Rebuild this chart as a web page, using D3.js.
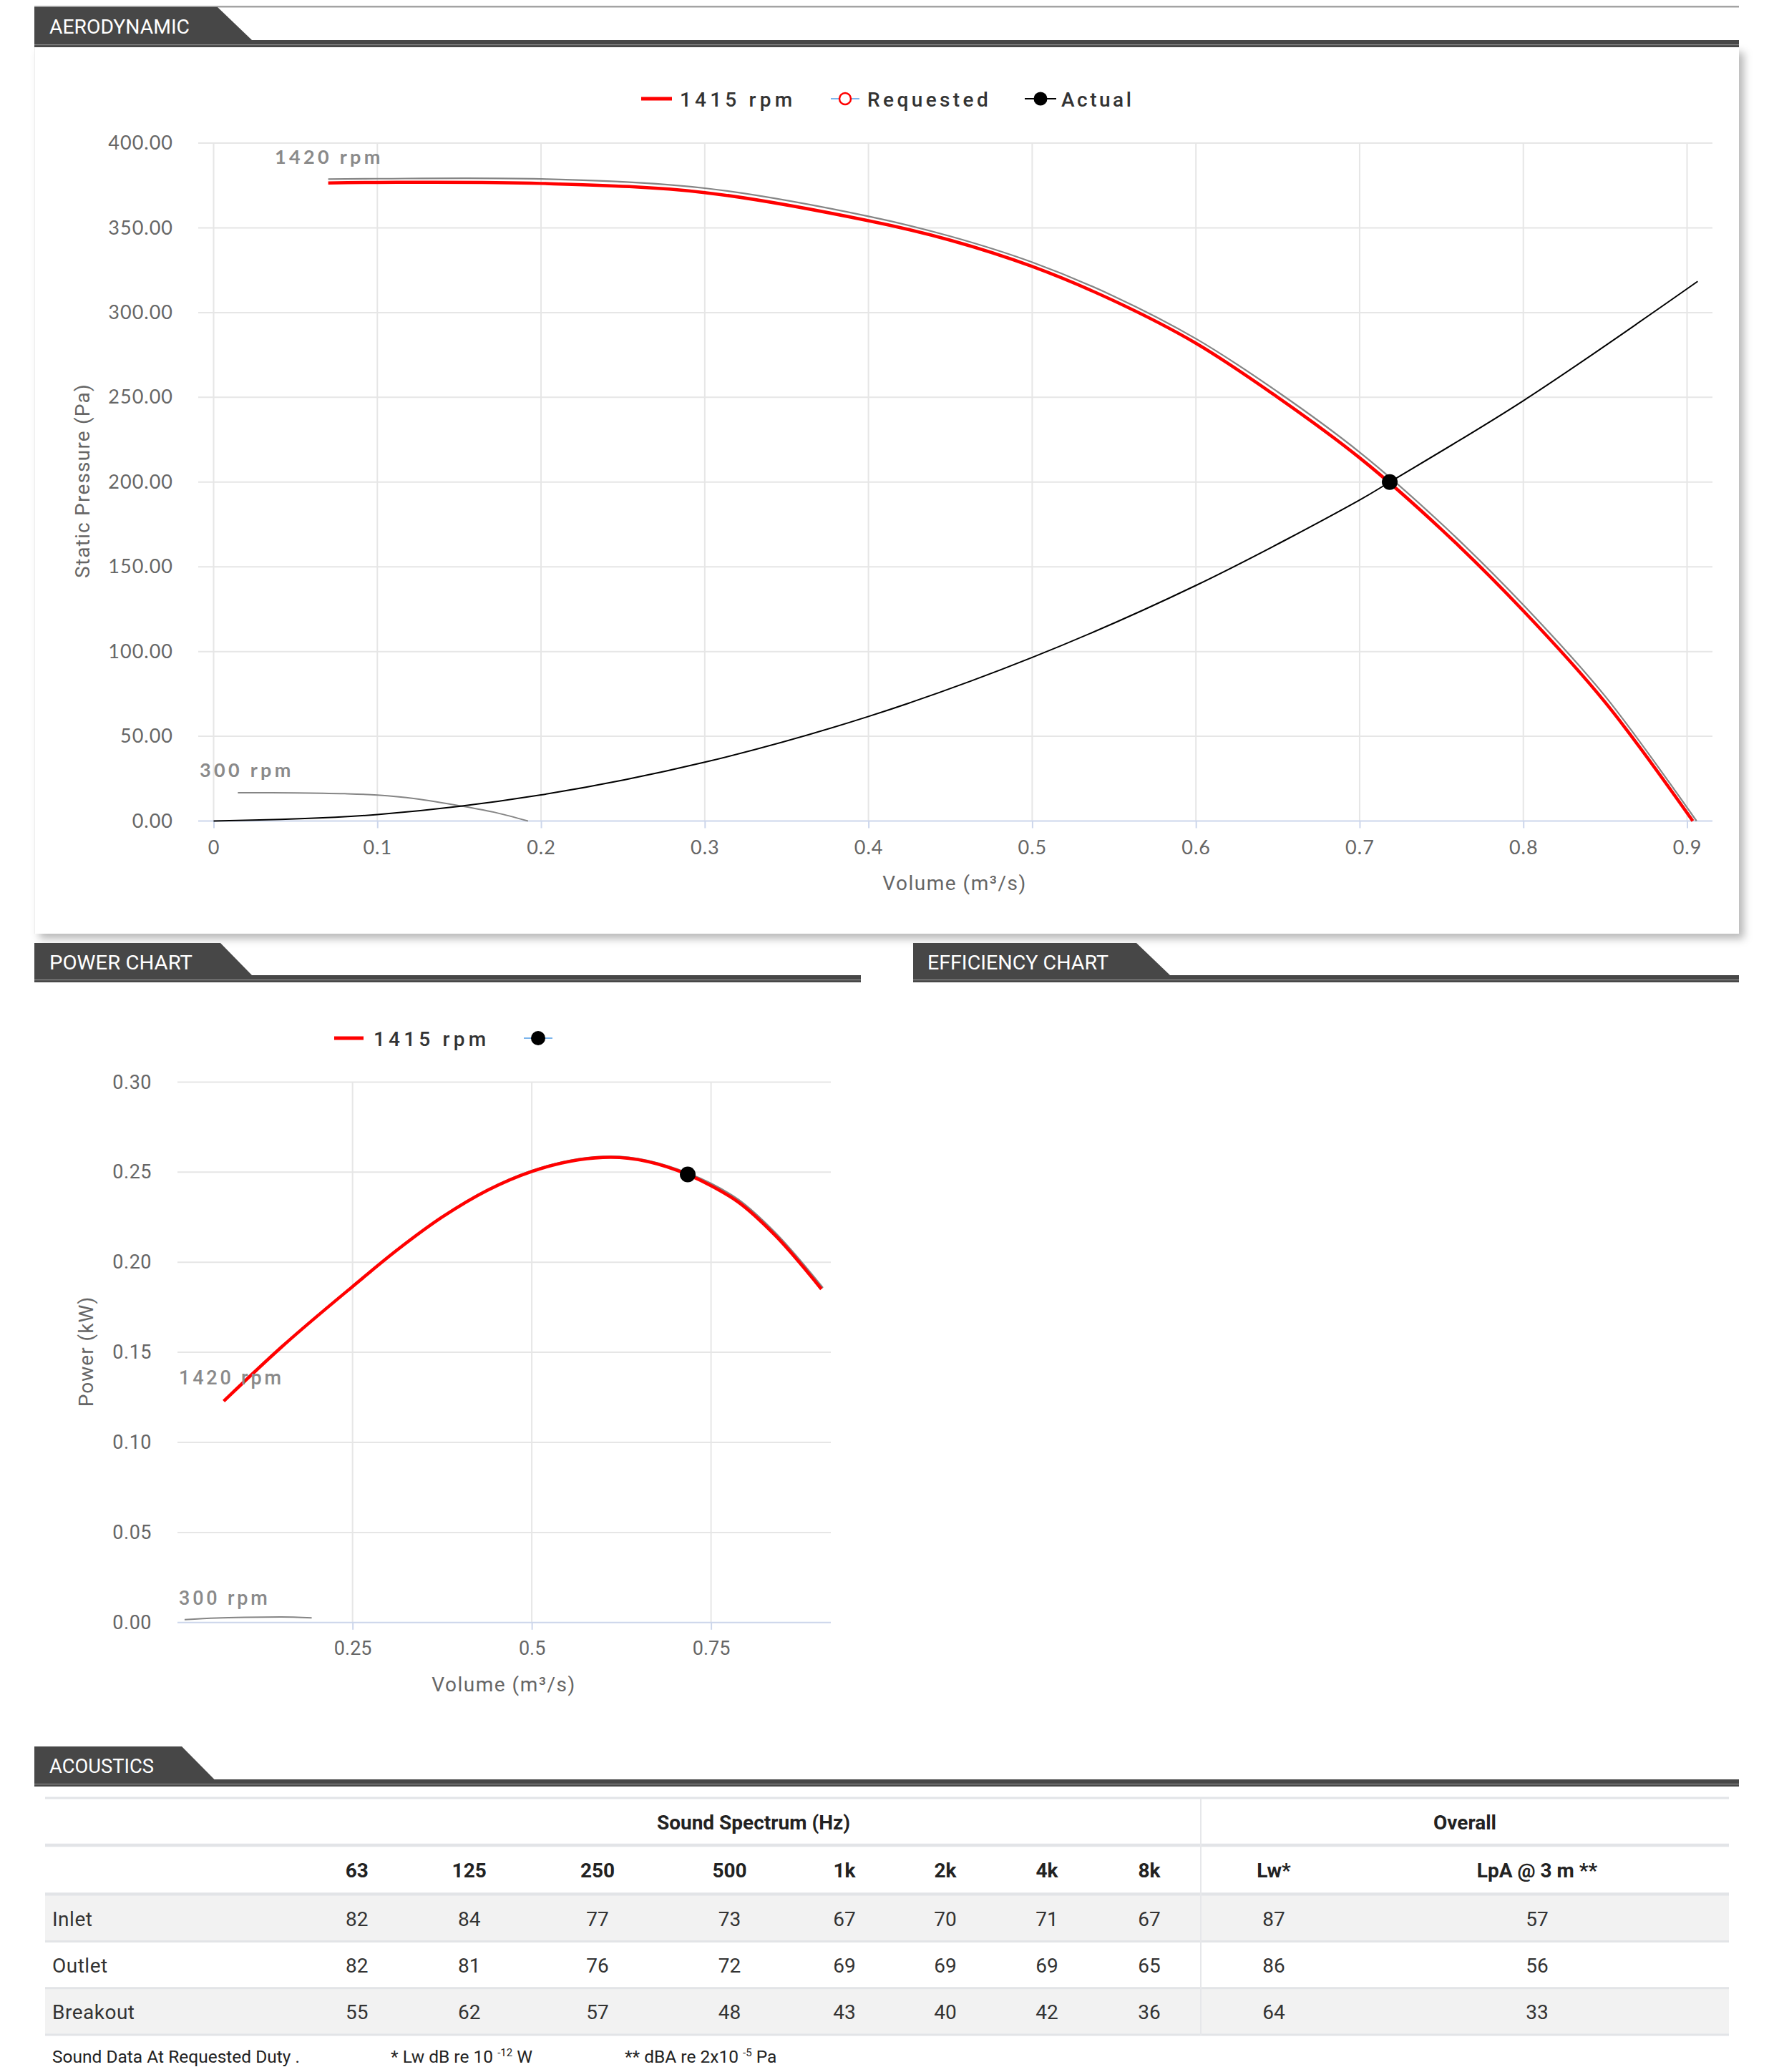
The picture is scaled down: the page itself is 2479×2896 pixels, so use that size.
<!DOCTYPE html>
<html><head><meta charset="utf-8">
<script src="https://cdn.jsdelivr.net/npm/d3@7"></script>
<style>
body{margin:0;background:#fff;}
svg{display:block;}
</style></head><body>
<svg id="page" width="2479" height="2896"></svg>
<script>
// ---------- DATA ----------
// Aerodynamic chart (Volume m3/s vs Static Pressure Pa)
const aeroXTicks = [0, 0.1, 0.2, 0.3, 0.4, 0.5, 0.6, 0.7, 0.8, 0.9];
const aeroXTickLabels = ["0", "0.1", "0.2", "0.3", "0.4", "0.5", "0.6", "0.7", "0.8", "0.9"];
const aeroYTicks = [0, 50, 100, 150, 200, 250, 300, 350, 400];

const fan1415Q = [0.070, 0.10, 0.20, 0.30, 0.40, 0.45, 0.50, 0.55, 0.60, 0.65, 0.70, 0.75, 0.80, 0.85, 0.9035];
const fan1415P = [376.5, 376.8, 376.2, 370.8, 354.2, 342.7, 327.2, 306.9, 281.9, 250.0, 214.3, 172.0, 124.0, 70.0, 0];

const fan1420Q = [0.070, 0.10, 0.20, 0.30, 0.40, 0.45, 0.50, 0.55, 0.60, 0.65, 0.70, 0.75, 0.80, 0.85, 0.9058];
const fan1420P = [378.7, 379.0, 378.8, 373.4, 356.8, 345.0, 329.7, 309.6, 284.6, 253.2, 217.6, 175.4, 127.5, 73.6, 0];

const fan300Q = [0.0148, 0.05, 0.08, 0.10, 0.123, 0.152, 0.173, 0.192];
const fan300P = [16.7, 16.6, 16.1, 15.3, 13.2, 8.7, 4.8, 0];

const systemQ = [0, 0.1, 0.2, 0.3, 0.4, 0.5, 0.6, 0.7, 0.7184, 0.8, 0.9065];
const systemP = [0, 3.8, 15.4, 34.7, 61.7, 96.5, 139.0, 189.4, 200.0, 248.0, 318.4];

const dutyQ = [0.7184];
const dutyP = [200.0];

// Power chart (Volume m3/s vs Power kW)
const powerXTicks = [0.25, 0.5, 0.75];
const powerXTickLabels = ["0.25", "0.5", "0.75"];
const powerYTicks = [0, 0.05, 0.10, 0.15, 0.20, 0.25, 0.30];

const power1415Q = [0.0703, 0.152, 0.25, 0.3126, 0.3756, 0.4385, 0.50, 0.61, 0.7175, 0.75, 0.788, 0.8395, 0.904];
const power1415W = [0.1229, 0.1533, 0.1865, 0.2069, 0.2252, 0.2400, 0.2504, 0.2583, 0.2487, 0.2425, 0.2334, 0.2149, 0.1851];

const power1420Q = [0.0703, 0.152, 0.25, 0.3126, 0.3756, 0.4385, 0.50, 0.61, 0.7175, 0.75, 0.788, 0.8395, 0.906];
const power1420W = [0.1231, 0.1536, 0.1868, 0.2072, 0.2255, 0.2403, 0.2508, 0.2588, 0.2495, 0.2437, 0.2348, 0.2164, 0.1858];

const power300Q = [0.0157, 0.06, 0.10, 0.15, 0.193];
const power300W = [0.0016, 0.0025, 0.0029, 0.0031, 0.0026];

const powerDutyQ = [0.7175];
const powerDutyW = [0.2487];

// Acoustics table
const bands = ["63", "125", "250", "500", "1k", "2k", "4k", "8k"];
const overallHeads = ["Lw*", "LpA @ 3 m **"];
const rowNames = ["Inlet", "Outlet", "Breakout"];
const inletLevels = [82, 84, 77, 73, 67, 70, 71, 67];
const outletLevels = [82, 81, 76, 72, 69, 69, 69, 65];
const breakoutLevels = [55, 62, 57, 48, 43, 40, 42, 36];
const inletOverall = [87, 57];
const outletOverall = [86, 56];
const breakoutOverall = [64, 33];

// ---------- DRAW ----------
const svg = d3.select("#page");
const defs = svg.append("defs");
const flt = defs.append("filter").attr("id", "shadow")
  .attr("x", "-2%").attr("y", "-3%").attr("width", "104%").attr("height", "108%");
flt.append("feDropShadow").attr("dx", 7).attr("dy", 7).attr("stdDeviation", 6)
  .attr("flood-color", "#000").attr("flood-opacity", 0.28);

const TAB = "#474747";
function header(xL, xR, yTop, yBar, trX, brX, label, tx, tBase, tLen) {
  const g = svg.append("g");
  g.append("polygon")
    .attr("points", [[xL, yTop], [trX, yTop], [brX, yBar], [xL, yBar]].map(p => p.join(",")).join(" "))
    .attr("fill", TAB);
  g.append("rect").attr("x", xL).attr("y", yBar).attr("width", xR - xL).attr("height", 10).attr("fill", TAB);
  g.append("rect").attr("x", xL).attr("y", yBar + 6).attr("width", xR - xL).attr("height", 1.2).attr("fill", "#8c8c8c");
  g.append("text").attr("x", tx).attr("y", tBase)
    .attr("font-family", "Roboto, sans-serif").attr("font-weight", 400)
    .attr("font-size", 27).attr("fill", "#fff")
    .attr("textLength", tLen).attr("lengthAdjust", "spacingAndGlyphs")
    .text(label);
}

// top grey line
svg.append("rect").attr("x", 48).attr("y", 8).attr("width", 2382).attr("height", 2.5).attr("fill", "#a3a3a3");

// aerodynamic card
svg.append("rect").attr("x", 48).attr("y", 66).attr("width", 2382).attr("height", 1239)
  .attr("fill", "#fff").attr("filter", "url(#shadow)");
svg.append("line").attr("x1", 48.5).attr("x2", 48.5).attr("y1", 66).attr("y2", 1305)
  .attr("stroke", "#eeeeee").attr("stroke-width", 1);

header(48, 2430, 10, 56, 304, 352, "AERODYNAMIC", 69, 47, 196);
header(48, 1203, 1318, 1363, 308, 352, "POWER CHART", 69, 1355, 200);
header(1276, 2430, 1318, 1363, 1588, 1635, "EFFICIENCY CHART", 1296, 1355, 253);
header(48, 2430, 2441, 2487, 254, 299.5, "ACOUSTICS", 69, 2478, 146);

// ===== Aerodynamic chart =====
const xA = d3.scaleLinear().domain([0, 0.9]).range([298.5, 2357.5]);
const yA = d3.scaleLinear().domain([0, 400]).range([1147.5, 200]);
const aL = 277, aR = 2393;
const GRID = "#e6e6e6", AXIS = "#ccd6eb";
const ga = svg.append("g");

// horizontal grid
ga.append("g").selectAll("line").data(aeroYTicks.filter(d => d > 0)).join("line")
  .attr("x1", aL).attr("x2", aR).attr("y1", d => yA(d)).attr("y2", d => yA(d))
  .attr("stroke", GRID).attr("stroke-width", 2);
// vertical grid
ga.append("g").selectAll("line").data(aeroXTicks).join("line")
  .attr("x1", d => xA(d)).attr("x2", d => xA(d)).attr("y1", yA(400)).attr("y2", yA(0))
  .attr("stroke", GRID).attr("stroke-width", 2);

// x axis
const axA = ga.append("g").attr("transform", `translate(0,${yA(0)})`)
  .call(d3.axisBottom(xA).tickValues(aeroXTicks).tickSize(10).tickPadding(17)
    .tickFormat((d, i) => aeroXTickLabels[i]));
axA.select(".domain").remove();
axA.selectAll(".tick line").attr("stroke", AXIS).attr("stroke-width", 2);
axA.selectAll(".tick text").attr("font-family", "Lato, sans-serif").attr("font-size", 27)
  .attr("letter-spacing", 1).attr("fill", "#666").attr("dy", "0.71em");
ga.append("line").attr("x1", aL).attr("x2", aR).attr("y1", yA(0)).attr("y2", yA(0))
  .attr("stroke", AXIS).attr("stroke-width", 2);

// y axis labels
const ayA = ga.append("g").attr("transform", `translate(${aL},0)`)
  .call(d3.axisLeft(yA).tickValues(aeroYTicks).tickSize(0).tickPadding(35).tickFormat(d3.format(".2f")));
ayA.select(".domain").remove();
ayA.selectAll(".tick text").attr("font-family", "Lato, sans-serif").attr("font-size", 27)
  .attr("letter-spacing", 1).attr("fill", "#666");

// axis titles
ga.append("text").attr("transform", "translate(125,672) rotate(-90)").attr("text-anchor", "middle")
  .attr("font-family", "Roboto, sans-serif").attr("font-size", 28).attr("letter-spacing", 1.2).attr("fill", "#666")
  .text("Static Pressure (Pa)");
ga.append("text").attr("x", 1334).attr("y", 1244).attr("text-anchor", "middle")
  .attr("font-family", "Roboto, sans-serif").attr("font-size", 28).attr("letter-spacing", 1.5).attr("fill", "#666")
  .text("Volume (m³/s)");

const lineA = d3.line().x(d => xA(d[0])).y(d => yA(d[1])).curve(d3.curveCatmullRom.alpha(0.5));
ga.append("path").attr("d", lineA(d3.zip(fan300Q, fan300P))).attr("fill", "none").attr("stroke", "#858585").attr("stroke-width", 2);
ga.append("path").attr("d", lineA(d3.zip(systemQ, systemP))).attr("fill", "none").attr("stroke", "#000").attr("stroke-width", 2);
ga.append("path").attr("d", lineA(d3.zip(fan1420Q, fan1420P))).attr("fill", "none").attr("stroke", "#858585").attr("stroke-width", 2.2);
ga.append("path").attr("d", lineA(d3.zip(fan1415Q, fan1415P))).attr("fill", "none").attr("stroke", "#ff0000").attr("stroke-width", 4.5);
ga.selectAll("circle.duty").data(d3.zip(dutyQ, dutyP)).join("circle").attr("class", "duty")
  .attr("cx", d => xA(d[0])).attr("cy", d => yA(d[1])).attr("r", 11).attr("fill", "#000");

const rpmLbl = (g, x, y, t) => g.append("text").attr("x", x).attr("y", y)
  .attr("font-family", "Lato, sans-serif").attr("font-weight", 700).attr("font-size", 27)
  .attr("letter-spacing", 4.3).attr("fill", "#8a8a8a").attr("dominant-baseline", "central").text(t);
rpmLbl(ga, 384, 218, "1420 rpm");
rpmLbl(ga, 279, 1075, "300 rpm");

// legend
const lgTxt = (g, x, y, t, ls) => g.append("text").attr("x", x).attr("y", y)
  .attr("font-family", "Roboto, sans-serif").attr("font-weight", 500).attr("font-size", 28)
  .attr("letter-spacing", ls).attr("fill", "#333").attr("dominant-baseline", "central").text(t);
const lg = svg.append("g");
lg.append("line").attr("x1", 896).attr("x2", 939).attr("y1", 138).attr("y2", 138).attr("stroke", "#f00").attr("stroke-width", 5);
lgTxt(lg, 950, 139, "1415 rpm", 5.2);
lg.append("line").attr("x1", 1161).attr("x2", 1201).attr("y1", 138).attr("y2", 138).attr("stroke", "#7cb5ec").attr("stroke-width", 2);
lg.append("circle").attr("cx", 1181).attr("cy", 138).attr("r", 8).attr("fill", "#fff").attr("stroke", "#f00").attr("stroke-width", 2.5);
lgTxt(lg, 1212, 139, "Requested", 4.4);
lg.append("line").attr("x1", 1432).attr("x2", 1476).attr("y1", 138).attr("y2", 138).attr("stroke", "#000").attr("stroke-width", 2);
lg.append("circle").attr("cx", 1454).attr("cy", 138).attr("r", 9.5).attr("fill", "#000");
lgTxt(lg, 1483, 139, "Actual", 3.5);

// ===== Power chart =====
const xP = d3.scaleLinear().domain([0, 0.75]).range([242.2, 993.6]);
const yP = d3.scaleLinear().domain([0, 0.3]).range([2267.8, 1512.4]);
const pL = 248, pR = 1161;
const gp = svg.append("g");
gp.append("g").selectAll("line").data(powerYTicks.filter(d => d > 0)).join("line")
  .attr("x1", pL).attr("x2", pR).attr("y1", d => yP(d)).attr("y2", d => yP(d))
  .attr("stroke", GRID).attr("stroke-width", 2);
gp.append("g").selectAll("line").data(powerXTicks).join("line")
  .attr("x1", d => xP(d)).attr("x2", d => xP(d)).attr("y1", yP(0.3)).attr("y2", yP(0))
  .attr("stroke", GRID).attr("stroke-width", 2);
const axP = gp.append("g").attr("transform", `translate(0,${yP(0)})`)
  .call(d3.axisBottom(xP).tickValues(powerXTicks).tickSize(10).tickPadding(16)
    .tickFormat((d, i) => powerXTickLabels[i]));
axP.select(".domain").remove();
axP.selectAll(".tick line").attr("stroke", AXIS).attr("stroke-width", 2);
axP.selectAll(".tick text").attr("font-family", "Roboto, sans-serif").attr("font-size", 27)
  .attr("fill", "#666").attr("dy", "0.71em");
gp.append("line").attr("x1", pL).attr("x2", pR).attr("y1", yP(0)).attr("y2", yP(0))
  .attr("stroke", AXIS).attr("stroke-width", 2);
const ayP = gp.append("g").attr("transform", `translate(${pL},0)`)
  .call(d3.axisLeft(yP).tickValues(powerYTicks).tickSize(0).tickPadding(36).tickFormat(d3.format(".2f")));
ayP.select(".domain").remove();
ayP.selectAll(".tick text").attr("font-family", "Roboto, sans-serif").attr("font-size", 27)
  .attr("letter-spacing", 0.5).attr("fill", "#666");
gp.append("text").attr("transform", "translate(130,1889) rotate(-90)").attr("text-anchor", "middle")
  .attr("font-family", "Roboto, sans-serif").attr("font-size", 28).attr("letter-spacing", 1).attr("fill", "#666")
  .text("Power (kW)");
gp.append("text").attr("x", 704).attr("y", 2364).attr("text-anchor", "middle")
  .attr("font-family", "Roboto, sans-serif").attr("font-size", 28).attr("letter-spacing", 1.5).attr("fill", "#666")
  .text("Volume (m³/s)");

const lineP = d3.line().x(d => xP(d[0])).y(d => yP(d[1])).curve(d3.curveMonotoneX);
gp.append("path").attr("d", lineP(d3.zip(power300Q, power300W))).attr("fill", "none").attr("stroke", "#858585").attr("stroke-width", 2);
gp.append("path").attr("d", lineP(d3.zip(power1420Q, power1420W))).attr("fill", "none").attr("stroke", "#858585").attr("stroke-width", 2.5);
gp.append("path").attr("d", lineP(d3.zip(power1415Q, power1415W))).attr("fill", "none").attr("stroke", "#ff0000").attr("stroke-width", 4.5);
gp.selectAll("circle.duty").data(d3.zip(powerDutyQ, powerDutyW)).join("circle").attr("class", "duty")
  .attr("cx", d => xP(d[0])).attr("cy", d => yP(d[1])).attr("r", 11).attr("fill", "#000");
const rpmLblP = (x, y, t) => gp.append("text").attr("x", x).attr("y", y)
  .attr("font-family", "Roboto, sans-serif").attr("font-weight", 500).attr("font-size", 27)
  .attr("letter-spacing", 3.8).attr("fill", "#8a8a8a").attr("dominant-baseline", "central").text(t);
rpmLblP(250, 1926, "1420 rpm");
rpmLblP(250, 2234, "300 rpm");

const lgp = svg.append("g");
lgp.append("line").attr("x1", 467).attr("x2", 508).attr("y1", 1451).attr("y2", 1451).attr("stroke", "#f00").attr("stroke-width", 5);
lgTxt(lgp, 522, 1452, "1415 rpm", 5.2);
lgp.append("line").attr("x1", 732).attr("x2", 772).attr("y1", 1451).attr("y2", 1451).attr("stroke", "#7cb5ec").attr("stroke-width", 2);
lgp.append("circle").attr("cx", 752).attr("cy", 1451).attr("r", 10).attr("fill", "#000");

// ===== Acoustics table =====
const colX = [498.7, 655.7, 835, 1019.6, 1180, 1321, 1463, 1606, 1780, 2148];
const tL = 63, tR = 2416, divX = 1678;
const gt = svg.append("g").attr("font-family", "Roboto, sans-serif");
const rowData = [
  [rowNames[0], inletLevels.concat(inletOverall)],
  [rowNames[1], outletLevels.concat(outletOverall)],
  [rowNames[2], breakoutLevels.concat(breakoutOverall)]
];
const rowBand = [[2650, 2712], [2715, 2777.5], [2780, 2843]];
// shaded rows
gt.selectAll("rect.bg").data(rowData).join("rect").attr("class", "bg")
  .attr("x", tL).attr("width", tR - tL)
  .attr("y", (d, i) => rowBand[i][0]).attr("height", (d, i) => rowBand[i][1] - rowBand[i][0])
  .attr("fill", (d, i) => i % 2 === 0 ? "#f2f2f2" : "#fff");
// horizontal rules
const rules = [[2513, 3], [2579, 4.5], [2647.5, 4.5], [2713.5, 3], [2778.7, 3], [2844, 3]];
gt.selectAll("rect.rule").data(rules).join("rect").attr("class", "rule")
  .attr("x", tL).attr("width", tR - tL).attr("y", d => d[0] - d[1] / 2).attr("height", d => d[1])
  .attr("fill", "#e2e4e7");
gt.append("rect").attr("x", divX - 1).attr("y", 2514).attr("width", 2).attr("height", 331).attr("fill", "#e6e7ea");

gt.append("text").attr("x", 1053).attr("y", 2547).attr("text-anchor", "middle").attr("dominant-baseline", "central")
  .attr("font-weight", 700).attr("font-size", 28).attr("fill", "#222").text("Sound Spectrum (Hz)");
gt.append("text").attr("x", 2047).attr("y", 2547).attr("text-anchor", "middle").attr("dominant-baseline", "central")
  .attr("font-weight", 700).attr("font-size", 28).attr("fill", "#222").text("Overall");
gt.selectAll("text.colh").data(bands.concat(overallHeads)).join("text").attr("class", "colh")
  .attr("x", (d, i) => colX[i]).attr("y", 2614).attr("text-anchor", "middle").attr("dominant-baseline", "central")
  .attr("font-weight", 700).attr("font-size", 28).attr("fill", "#222").text(d => d);
const rowY = [2682, 2747, 2812];
rowData.forEach((r, i) => {
  gt.append("text").attr("x", 73).attr("y", rowY[i]).attr("dominant-baseline", "central")
    .attr("font-size", 28).attr("fill", "#333").attr("letter-spacing", 0.5).text(r[0]);
  gt.selectAll(null).data(r[1]).join("text")
    .attr("x", (d, j) => colX[j]).attr("y", rowY[i]).attr("text-anchor", "middle").attr("dominant-baseline", "central")
    .attr("font-size", 28).attr("fill", "#333").text(d => d);
});
// footnotes
const fn = gt.append("g").attr("font-size", 24.5).attr("fill", "#222");
fn.append("text").attr("x", 73).attr("y", 2883).text("Sound Data At Requested Duty .");
const f2 = fn.append("text").attr("x", 546).attr("y", 2883);
f2.append("tspan").text("* Lw dB re 10 ");
f2.append("tspan").attr("font-size", 15).attr("dy", -9).text("-12");
f2.append("tspan").attr("dy", 9).text(" W");
const f3 = fn.append("text").attr("x", 873).attr("y", 2883);
f3.append("tspan").text("** dBA re 2x10 ");
f3.append("tspan").attr("font-size", 15).attr("dy", -9).text("-5");
f3.append("tspan").attr("dy", 9).text(" Pa");
</script>
</body></html>
